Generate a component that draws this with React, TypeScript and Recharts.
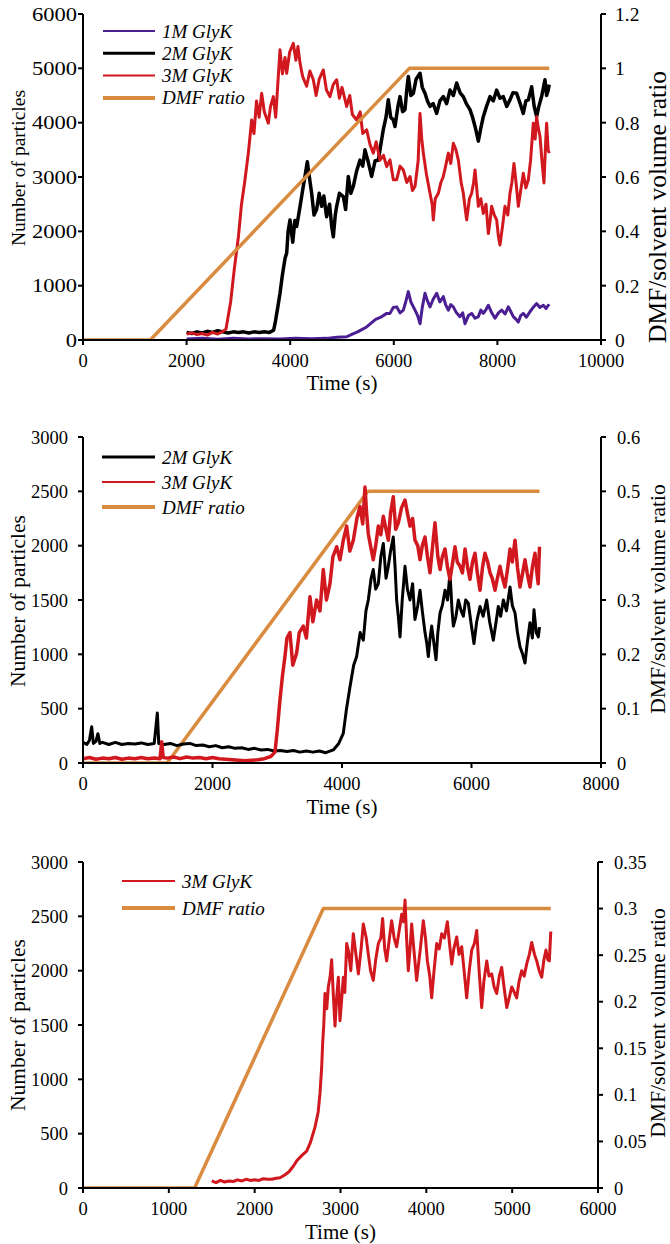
import React from "react";
import { LineChart, Line, XAxis, YAxis, Legend } from "recharts";

// ---------------- DATA ----------------
// Panel 1 (1M / 2M / 3M GlyK)
const p1TimeTicks = [0, 2000, 4000, 6000, 8000, 10000];
const p1CountTicks = [0, 1000, 2000, 3000, 4000, 5000, 6000];
const p1RatioTicks = [0, 0.2, 0.4, 0.6, 0.8, 1, 1.2];

const p1Dmf: [number, number][] = [[0, 0], [1300, 0], [6300, 1], [9000, 1]];

const p1GlyK1M: [number, number][] = [
  [2000, 20], [2300, 30], [2600, 15], [2900, 30], [3200, 20], [3500, 25], [3800, 20], [4100, 30], [4400, 25], [4700, 30],
  [4900, 50], [5090, 60], [5200, 110], [5300, 150], [5400, 200], [5476, 240], [5550, 300], [5650, 380], [5750, 420], [5862, 490],
  [5927, 490], [5990, 600], [6056, 610], [6120, 500], [6184, 550], [6230, 700], [6280, 890], [6330, 700], [6410, 550], [6460, 450],
  [6506, 300], [6550, 600], [6602, 860], [6650, 720], [6699, 610], [6760, 750], [6828, 860], [6890, 700], [6956, 800], [7000, 650],
  [7053, 550], [7100, 650], [7149, 610], [7210, 500], [7278, 430], [7330, 500], [7374, 300], [7440, 450], [7503, 490], [7570, 400],
  [7632, 430], [7680, 550], [7728, 490], [7780, 560], [7825, 640], [7890, 500], [7954, 400], [8020, 500], [8082, 550], [8150, 480],
  [8211, 610], [8260, 520], [8307, 430], [8360, 380], [8404, 330], [8450, 450], [8500, 490], [8560, 420], [8629, 520], [8690, 600],
  [8757, 670], [8820, 600], [8886, 640], [8940, 580], [8982, 640], [9000, 620],
];

const p1GlyK2M: [number, number][] = [
  [2000, 140], [2100, 120], [2200, 150], [2300, 130], [2400, 160], [2500, 140], [2600, 170], [2700, 150], [2800, 130], [2900, 150],
  [3000, 140], [3100, 150], [3200, 130], [3300, 150], [3400, 140], [3500, 150], [3600, 140], [3680, 180], [3707, 300], [3760, 600],
  [3803, 860], [3850, 1200], [3900, 1500], [3932, 1600], [3960, 2000], [3996, 2210], [4050, 1800], [4090, 2200], [4125, 2090], [4180, 2400],
  [4253, 2830], [4300, 3100], [4330, 3280], [4370, 3000], [4414, 2700], [4460, 2300], [4510, 2400], [4560, 2700], [4607, 2460], [4650, 2650],
  [4703, 2270], [4760, 2500], [4800, 2100], [4832, 1900], [4870, 2300], [4897, 2460], [4950, 2700], [5025, 2640], [5070, 2400], [5122, 3010],
  [5170, 2700], [5219, 2830], [5280, 3100], [5347, 3310], [5400, 3200], [5444, 3500], [5500, 3300], [5572, 3010], [5640, 3300], [5701, 3310],
  [5750, 3600], [5797, 3870], [5850, 4100], [5894, 4420], [5940, 4100], [5991, 4050], [6023, 3930], [6080, 4300], [6120, 4480], [6170, 4200],
  [6216, 4240], [6250, 4600], [6280, 4850], [6330, 4500], [6377, 4540], [6430, 4800], [6506, 4910], [6550, 4650], [6602, 4540], [6650, 4400],
  [6699, 4300], [6760, 4350], [6828, 4170], [6890, 4400], [6956, 4480], [7020, 4350], [7085, 4600], [7150, 4500], [7214, 4730], [7280, 4550],
  [7342, 4480], [7400, 4350], [7471, 4240], [7520, 4100], [7568, 3930], [7600, 3800], [7632, 3660], [7680, 3900], [7728, 4110], [7790, 4300],
  [7857, 4480], [7920, 4400], [7986, 4600], [8050, 4450], [8114, 4480], [8180, 4300], [8243, 4420], [8300, 4550], [8372, 4540], [8440, 4350],
  [8500, 4170], [8550, 4400], [8597, 4420], [8661, 4660], [8710, 4300], [8757, 4110], [8800, 4300], [8854, 4480], [8918, 4790], [8950, 4500],
  [8982, 4600], [9000, 4700],
];

const p1GlyK3M: [number, number][] = [
  [2000, 110], [2100, 130], [2200, 100], [2300, 120], [2400, 90], [2500, 140], [2600, 110], [2700, 160], [2760, 200], [2850, 700],
  [2920, 1300], [3000, 1900], [3060, 2500], [3120, 2900], [3192, 3440], [3256, 4050], [3300, 3800], [3350, 4400], [3400, 4100], [3449, 4540],
  [3500, 4200], [3578, 3990], [3620, 4300], [3675, 4480], [3720, 4100], [3760, 4700], [3803, 5340], [3850, 4900], [3900, 5200], [3932, 4910],
  [3990, 5300], [4060, 5460], [4110, 5150], [4150, 5400], [4189, 5100], [4240, 4850], [4317, 4670], [4380, 4950], [4446, 4790], [4500, 4500],
  [4560, 4800], [4639, 4970], [4700, 4600], [4768, 4480], [4830, 4700], [4897, 4790], [4950, 4450], [5000, 4650], [5090, 4300], [5150, 4500],
  [5200, 4150], [5283, 4050], [5350, 4200], [5400, 3800], [5476, 3870], [5540, 3600], [5604, 3440], [5660, 3650], [5733, 3310], [5800, 3400],
  [5862, 3190], [5927, 3315], [5991, 2950], [6056, 2950], [6120, 3200], [6184, 3130], [6250, 2900], [6313, 3010], [6360, 2750], [6410, 2830],
  [6470, 3300], [6506, 4170], [6540, 3700], [6570, 3440], [6630, 3050], [6699, 2700], [6740, 2500], [6763, 2210], [6800, 2600], [6860, 2700],
  [6910, 2900], [6956, 3010], [7000, 3200], [7053, 3440], [7100, 3250], [7149, 3620], [7200, 3500], [7246, 3310], [7300, 2900], [7342, 2700],
  [7380, 2400], [7407, 2210], [7460, 2600], [7503, 2700], [7540, 2900], [7568, 3130], [7600, 2800], [7632, 2460], [7680, 2600], [7728, 2330],
  [7780, 2500], [7825, 1960], [7860, 2200], [7889, 2460], [7940, 2300], [7986, 2210], [8020, 1900], [8050, 1750], [8100, 2100], [8146, 2460],
  [8200, 2300], [8243, 2700], [8280, 2900], [8320, 3250], [8360, 2900], [8404, 2460], [8450, 2750], [8500, 3070], [8550, 2800], [8597, 2950],
  [8640, 3300], [8693, 3990], [8730, 3700], [8757, 4110], [8790, 3900], [8822, 3750], [8860, 3300], [8899, 2890], [8930, 3600], [8950, 3990],
  [8980, 3500], [9000, 3440],
];

// Panel 2 (2M / 3M GlyK)
const p2TimeTicks = [0, 2000, 4000, 6000, 8000];
const p2CountTicks = [0, 500, 1000, 1500, 2000, 2500, 3000];
const p2RatioTicks = [0, 0.1, 0.2, 0.3, 0.4, 0.5, 0.6];

const p2Dmf: [number, number][] = [[0, 0], [1300, 0], [4400, 0.5], [7050, 0.5]];

const p2GlyK2M: [number, number][] = [
  [0, 190], [60, 170], [100, 210], [134, 334], [160, 180], [200, 200], [230, 270], [260, 180], [300, 190], [400, 170],
  [500, 190], [600, 170], [700, 180], [800, 175], [900, 185], [1000, 170], [1100, 180], [1148, 460], [1170, 180], [1250, 170],
  [1350, 180], [1450, 160], [1550, 175], [1650, 180], [1750, 160], [1850, 165], [1950, 150], [2050, 160], [2150, 140], [2250, 150],
  [2350, 135], [2450, 140], [2550, 125], [2650, 135], [2750, 120], [2850, 125], [2950, 110], [3050, 115], [3150, 105], [3250, 115],
  [3350, 100], [3450, 110], [3550, 100], [3650, 110], [3750, 95], [3866, 120], [3950, 180], [4020, 273], [4070, 500], [4123, 700],
  [4180, 900], [4226, 980], [4280, 1200], [4329, 1130], [4370, 1400], [4406, 1500], [4450, 1700], [4483, 1780], [4520, 1600], [4561, 1650],
  [4600, 1900], [4638, 2020], [4680, 1700], [4715, 1810], [4750, 1950], [4792, 2080], [4820, 1800], [4844, 1500], [4870, 1350], [4896, 1160],
  [4930, 1500], [4973, 1810], [5010, 1600], [5050, 1500], [5090, 1650], [5127, 1320], [5170, 1450], [5205, 1590], [5240, 1400], [5282, 1200],
  [5310, 1100], [5333, 980], [5360, 1150], [5385, 1260], [5420, 1100], [5452, 950], [5480, 1200], [5514, 1380], [5550, 1450], [5591, 1590],
  [5630, 1500], [5668, 1750], [5700, 1400], [5720, 1260], [5760, 1350], [5797, 1500], [5840, 1400], [5874, 1350], [5910, 1500], [5951, 1470],
  [5990, 1300], [6038, 1100], [6080, 1300], [6131, 1440], [6180, 1350], [6234, 1500], [6280, 1300], [6337, 1130], [6380, 1300], [6414, 1440],
  [6450, 1350], [6492, 1500], [6540, 1400], [6595, 1620], [6630, 1450], [6672, 1380], [6710, 1200], [6749, 1070], [6790, 1000], [6826, 920],
  [6860, 1100], [6903, 1290], [6940, 1150], [6965, 1410], [7000, 1200], [7032, 1160], [7050, 1250],
];

const p2GlyK3M: [number, number][] = [
  [0, 40], [100, 50], [200, 35], [300, 45], [400, 40], [500, 50], [600, 35], [700, 45], [800, 40], [900, 50],
  [1000, 40], [1100, 45], [1190, 40], [1215, 196], [1240, 50], [1300, 45], [1400, 55], [1500, 40], [1600, 55], [1700, 45],
  [1800, 50], [1900, 40], [2000, 50], [2100, 40], [2200, 35], [2300, 30], [2400, 25], [2500, 20], [2600, 25], [2700, 30],
  [2800, 40], [2900, 60], [2965, 100], [3000, 300], [3042, 580], [3080, 800], [3119, 980], [3150, 1150], [3196, 1200], [3240, 900],
  [3299, 1010], [3340, 1200], [3402, 1260], [3450, 1150], [3505, 1530], [3550, 1300], [3608, 1500], [3660, 1400], [3711, 1780], [3760, 1500],
  [3814, 1650], [3860, 1900], [3918, 1990], [3969, 1870], [4020, 2050], [4072, 2180], [4120, 1950], [4175, 2050], [4230, 2250], [4278, 2360],
  [4320, 2200], [4355, 2540], [4380, 2300], [4406, 2110], [4440, 2000], [4483, 1870], [4520, 2000], [4561, 2180], [4600, 2100], [4638, 2270],
  [4680, 2150], [4715, 2050], [4750, 2300], [4792, 2450], [4830, 2150], [4870, 2210], [4920, 2350], [4973, 2420], [5010, 2300], [5050, 2180],
  [5090, 2250], [5127, 2050], [5170, 2000], [5205, 1870], [5240, 2000], [5282, 2080], [5320, 1900], [5359, 1750], [5400, 2000], [5436, 2210],
  [5480, 1900], [5514, 1780], [5550, 1900], [5591, 1970], [5630, 1800], [5668, 1690], [5710, 1850], [5745, 1990], [5780, 1850], [5823, 1810],
  [5860, 1750], [5900, 1970], [5940, 1800], [5977, 1690], [6015, 1850], [6054, 1930], [6090, 1750], [6131, 1590], [6170, 1800], [6208, 1930],
  [6250, 1850], [6286, 1750], [6320, 1700], [6363, 1590], [6400, 1700], [6440, 1810], [6480, 1700], [6517, 1620], [6560, 1800], [6595, 1970],
  [6630, 1850], [6672, 2050], [6710, 1800], [6749, 1620], [6790, 1750], [6826, 1870], [6860, 1750], [6903, 1620], [6940, 1800], [6980, 1930],
  [7010, 1750], [7030, 1650], [7050, 1990],
];

// Panel 3 (3M GlyK)
const p3TimeTicks = [0, 1000, 2000, 3000, 4000, 5000, 6000];
const p3CountTicks = [0, 500, 1000, 1500, 2000, 2500, 3000];
const p3RatioTicks = [0, 0.05, 0.1, 0.15, 0.2, 0.25, 0.3, 0.35];

const p3Dmf: [number, number][] = [[0, 0], [1300, 0], [2800, 0.3], [5450, 0.3]];

const p3GlyK3M: [number, number][] = [
  [1500, 65], [1550, 50], [1600, 70], [1650, 55], [1700, 65], [1750, 60], [1800, 75], [1850, 65], [1900, 80], [1950, 70],
  [2000, 75], [2050, 70], [2100, 85], [2150, 80], [2200, 80], [2250, 90], [2295, 95], [2350, 120], [2400, 150], [2450, 200],
  [2490, 250], [2550, 300], [2606, 340], [2650, 420], [2703, 560], [2740, 700], [2761, 870], [2780, 1100], [2792, 1330], [2805, 1500],
  [2819, 1790], [2840, 1650], [2858, 1850], [2880, 1950], [2897, 2100], [2915, 1800], [2936, 1490], [2955, 1750], [2975, 1940], [2994, 1540],
  [3010, 1700], [3033, 1940], [3050, 1800], [3072, 2250], [3091, 2190], [3120, 2000], [3149, 2340], [3180, 2150], [3208, 1970], [3240, 2200],
  [3266, 2430], [3300, 2300], [3324, 2150], [3350, 2000], [3382, 1910], [3410, 2100], [3441, 2250], [3470, 2300], [3491, 2480], [3515, 2200],
  [3538, 2090], [3570, 2300], [3596, 2460], [3625, 2300], [3654, 2220], [3690, 2400], [3713, 2520], [3735, 2450], [3752, 2650], [3770, 2300],
  [3790, 2000], [3810, 2200], [3829, 2430], [3860, 2150], [3887, 1910], [3930, 2200], [3965, 2460], [3990, 2300], [4012, 2090], [4040, 1950],
  [4062, 1750], [4090, 2000], [4121, 2250], [4150, 2200], [4179, 2340], [4210, 2300], [4245, 2450], [4270, 2250], [4296, 2060], [4320, 2200],
  [4354, 2310], [4380, 2150], [4412, 2220], [4440, 2000], [4470, 1750], [4500, 2000], [4529, 2190], [4560, 2250], [4587, 2370], [4615, 2000],
  [4645, 1660], [4670, 1900], [4704, 2090], [4730, 1950], [4762, 1970], [4790, 1850], [4820, 1790], [4850, 1950], [4878, 2030], [4905, 1850],
  [4937, 1660], [4965, 1750], [4995, 1850], [5025, 1800], [5053, 1750], [5080, 1900], [5111, 2000], [5140, 1950], [5169, 2060], [5200, 2150],
  [5228, 2260], [5260, 2150], [5286, 2090], [5315, 2000], [5344, 1940], [5370, 2100], [5394, 2190], [5415, 2100], [5433, 2090], [5450, 2360],
];

// ---------------- STYLE ----------------
const FONT = "'Liberation Serif', 'Times New Roman', serif";
const C_PURPLE = "#4b1f93";
const C_BLACK = "#000000";
const C_RED = "#d0181e";
const C_ORANGE = "#d98b3f";

type Series = {
  name: string;
  data: [number, number][];
  color: string;
  width: number;
  axis: "left" | "right";
  legendWidth: number;
};

type PanelCfg = {
  top: number;
  xMax: number;
  xTicks: number[];
  yMax: number;
  yTicks: number[];
  rMax: number;
  rTicks: number[];
  rightWidth: number;
  series: Series[];
  legend: Series[];
  legendX1: number;
  legendX2: number;
  legendY0: number;
  legendDy: number;
  leftTickFont: number;
  leftTickScale: number;
  leftTickMargin: number;
  rightTickFont: number;
  rightTickMargin: number;
  xTickMargin: number;
  timeLabelY: number;
  leftLabelFont: number;
  leftLabelShift: number;
  rightLabelFont: number;
  rightLabelShift: number;
  rightLabelX: number;
};

const toRows = (d: [number, number][]) => d.map(([t, v]) => ({ t, v }));

const axisLine = { stroke: "#000", strokeWidth: 2 };
const tickLine = { stroke: "#000", strokeWidth: 2 };

const PLOT_TOP = 14;
const PLOT_H = 326;

function LeftTick(props: any) {
  const { x, y, payload, fontSize, sx } = props;
  return (
    <g transform={`translate(${x},${y})`}>
      <text transform={`scale(${sx},1)`} x={0} y={0} dy="0.355em" textAnchor="end" fill="#000"
        fontSize={fontSize} fontFamily={FONT}>
        {payload.value}
      </text>
    </g>
  );
}

function LeftLabel(props: any) {
  const vb = props && props.viewBox && props.viewBox.height ? props.viewBox : { y: PLOT_TOP, height: PLOT_H };
  const cy = vb.y + vb.height / 2 + props.shift;
  const cx = 18;
  return (
    <text x={cx} y={cy} transform={`rotate(-90, ${cx}, ${cy})`} textAnchor="middle" dominantBaseline="central"
      fill="#000" fontSize={props.fontSize} fontFamily={FONT}>
      Number of particles
    </text>
  );
}

function RightLabel(props: any) {
  const vb = props && props.viewBox && props.viewBox.height ? props.viewBox : { y: PLOT_TOP, height: PLOT_H };
  const cy = vb.y + vb.height / 2 + props.shift;
  const cx = props.cx;
  return (
    <text x={cx} y={cy} transform={`rotate(-90, ${cx}, ${cy})`} textAnchor="middle" dominantBaseline="central"
      fill="#000" fontSize={props.fontSize} fontFamily={FONT}>
      DMF/solvent volume ratio
    </text>
  );
}

function BottomLabel(props: any) {
  const vb = props && props.viewBox && props.viewBox.width ? props.viewBox : { x: 83, width: 518 };
  const cx = vb.x + vb.width / 2;
  return (
    <text x={cx} y={props.ty} textAnchor="middle" fill="#000" fontSize={21} fontFamily={FONT}>
      Time (s)
    </text>
  );
}

function LegendBox({ cfg }: { cfg: PanelCfg }) {
  return (
    <svg width={330} height={140} style={{ display: "block", overflow: "visible" }}>
      {cfg.legend.map((s, i) => {
        const y = cfg.legendY0 + i * cfg.legendDy;
        return (
          <g key={s.name}>
            <line x1={cfg.legendX1} x2={cfg.legendX2} y1={y} y2={y} stroke={s.color} strokeWidth={s.legendWidth} />
            <text x={cfg.legendX2 + 7} y={y} dominantBaseline="central" fill="#000" fontSize={19}
              fontStyle="italic" fontFamily={FONT}>
              {s.name}
            </text>
          </g>
        );
      })}
    </svg>
  );
}

function Panel({ cfg }: { cfg: PanelCfg }) {
  return (
    <div style={{ position: "absolute", left: 0, top: cfg.top, width: 670, height: 400 }}>
      <LineChart width={670} height={400} margin={{ top: PLOT_TOP, right: 0, bottom: 0, left: 0 }}>
        <XAxis
          xAxisId="bottom"
          type="number"
          dataKey="t"
          domain={[0, cfg.xMax]}
          ticks={cfg.xTicks}
          interval={0}
          allowDataOverflow
          height={60}
          tickSize={5}
          tickMargin={cfg.xTickMargin}
          tick={{ fill: "#000", fontSize: 18.5, fontFamily: FONT }}
          axisLine={axisLine}
          tickLine={tickLine}
          label={(p: any) => <BottomLabel {...p} ty={cfg.timeLabelY} />}
        />
        <XAxis
          xAxisId="top"
          orientation="top"
          type="number"
          dataKey="t"
          domain={[0, cfg.xMax]}
          allowDataOverflow
          height={0}
          tick={false}
          tickLine={false}
          axisLine={axisLine}
        />
        <YAxis
          yAxisId="left"
          type="number"
          domain={[0, cfg.yMax]}
          ticks={cfg.yTicks}
          interval={0}
          allowDataOverflow
          width={83}
          tickSize={5}
          tickMargin={cfg.leftTickMargin}
          tick={(p: any) => <LeftTick {...p} fontSize={cfg.leftTickFont} sx={cfg.leftTickScale} />}
          axisLine={axisLine}
          tickLine={tickLine}
          label={(p: any) => <LeftLabel {...p} fontSize={cfg.leftLabelFont} shift={cfg.leftLabelShift} />}
        />
        <YAxis
          yAxisId="right"
          orientation="right"
          type="number"
          domain={[0, cfg.rMax]}
          ticks={cfg.rTicks}
          interval={0}
          allowDataOverflow
          width={cfg.rightWidth}
          tickSize={5}
          tickMargin={cfg.rightTickMargin}
          tick={{ fill: "#000", fontSize: cfg.rightTickFont, fontFamily: FONT, textAnchor: "start" }}
          axisLine={axisLine}
          tickLine={tickLine}
          label={(p: any) => (
            <RightLabel {...p} fontSize={cfg.rightLabelFont} shift={cfg.rightLabelShift} cx={cfg.rightLabelX} />
          )}
        />
        {cfg.series.map((s) => (
          <Line
            key={s.name}
            xAxisId="bottom"
            yAxisId={s.axis}
            data={toRows(s.data)}
            dataKey="v"
            type="linear"
            stroke={s.color}
            strokeWidth={s.width}
            strokeLinejoin="round"
            dot={false}
            activeDot={false}
            isAnimationActive={false}
          />
        ))}
        <Legend
          layout="horizontal"
          verticalAlign="middle"
          align="center"
          wrapperStyle={{ position: "absolute", left: 0, top: 0, width: 330, height: 140, margin: 0, padding: 0 }}
          content={() => <LegendBox cfg={cfg} />}
        />
      </LineChart>
    </div>
  );
}

const s1M: Series = { name: "1M GlyK", data: p1GlyK1M, color: C_PURPLE, width: 3, axis: "left", legendWidth: 2 };
const s2M: Series = { name: "2M GlyK", data: p1GlyK2M, color: C_BLACK, width: 3.5, axis: "left", legendWidth: 3 };
const s3M: Series = { name: "3M GlyK", data: p1GlyK3M, color: C_RED, width: 3, axis: "left", legendWidth: 2 };
const sDmf1: Series = { name: "DMF ratio", data: p1Dmf, color: C_ORANGE, width: 3.5, axis: "right", legendWidth: 4 };

const s2M2: Series = { name: "2M GlyK", data: p2GlyK2M, color: C_BLACK, width: 3, axis: "left", legendWidth: 3 };
const s3M2: Series = { name: "3M GlyK", data: p2GlyK3M, color: C_RED, width: 3.5, axis: "left", legendWidth: 2 };
const sDmf2: Series = { name: "DMF ratio", data: p2Dmf, color: C_ORANGE, width: 3.5, axis: "right", legendWidth: 4 };

const s3M3: Series = { name: "3M GlyK", data: p3GlyK3M, color: C_RED, width: 3, axis: "left", legendWidth: 2 };
const sDmf3: Series = { name: "DMF ratio", data: p3Dmf, color: C_ORANGE, width: 3.5, axis: "right", legendWidth: 4 };

const panel1: PanelCfg = {
  top: 0, xMax: 10000, xTicks: p1TimeTicks, yMax: 6000, yTicks: p1CountTicks, rMax: 1.2, rTicks: p1RatioTicks,
  rightWidth: 69, series: [s1M, s2M, s3M, sDmf1], legend: [s1M, s2M, s3M, sDmf1],
  legendX1: 103, legendX2: 155, legendY0: 31, legendDy: 22.3,
  leftTickFont: 18.5, leftTickScale: 1.22, leftTickMargin: 1,
  rightTickFont: 19.5, rightTickMargin: 9, xTickMargin: 9, timeLabelY: 390,
  leftLabelFont: 19.5, leftLabelShift: -9, rightLabelFont: 25.5, rightLabelShift: 30, rightLabelX: 657,
};
const panel2: PanelCfg = {
  top: 423, xMax: 8000, xTicks: p2TimeTicks, yMax: 3000, yTicks: p2CountTicks, rMax: 0.6, rTicks: p2RatioTicks,
  rightWidth: 69, series: [sDmf2, s2M2, s3M2], legend: [s2M2, s3M2, sDmf2],
  legendX1: 102, legendX2: 155, legendY0: 34, legendDy: 25,
  leftTickFont: 18.5, leftTickScale: 1, leftTickMargin: 10,
  rightTickFont: 18.5, rightTickMargin: 11, xTickMargin: 9, timeLabelY: 391,
  leftLabelFont: 21.5, leftLabelShift: 1, rightLabelFont: 21.5, rightLabelShift: -1, rightLabelX: 658,
};
const panel3: PanelCfg = {
  top: 848, xMax: 6000, xTicks: p3TimeTicks, yMax: 3000, yTicks: p3CountTicks, rMax: 0.35, rTicks: p3RatioTicks,
  rightWidth: 72, series: [sDmf3, s3M3], legend: [s3M3, sDmf3],
  legendX1: 122, legendX2: 175, legendY0: 33, legendDy: 27,
  leftTickFont: 18.5, leftTickScale: 1, leftTickMargin: 10,
  rightTickFont: 18.5, rightTickMargin: 11, xTickMargin: 9, timeLabelY: 391,
  leftLabelFont: 21.5, leftLabelShift: 0, rightLabelFont: 21.5, rightLabelShift: -2, rightLabelX: 658,
};

export default function App() {
  return (
    <div style={{ position: "absolute", left: 0, top: 0, width: 670, height: 1244, background: "#fff" }}>
      <Panel cfg={panel1} />
      <Panel cfg={panel2} />
      <Panel cfg={panel3} />
    </div>
  );
}
